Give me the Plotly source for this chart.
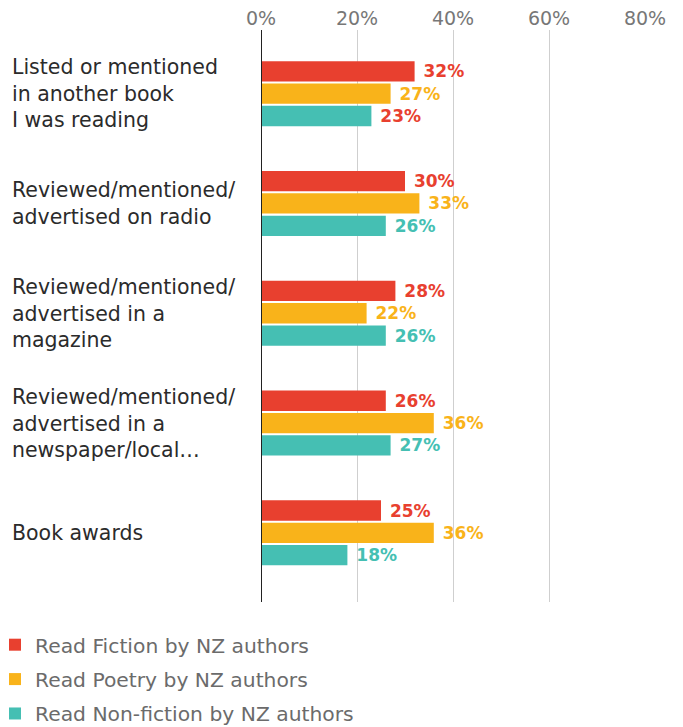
import plotly.graph_objects as go

categories = [
    "Listed or mentioned<br>in another book<br>I was reading",
    "Reviewed/mentioned/<br>advertised on radio",
    "Reviewed/mentioned/<br>advertised in a<br>magazine",
    "Reviewed/mentioned/<br>advertised in a<br>newspaper/local…",
    "Book awards",
]
fiction = [32, 30, 28, 26, 25]
poetry = [27, 33, 22, 36, 36]
nonfiction = [23, 26, 26, 27, 18]
series_names = ["Read Fiction by NZ authors", "Read Poetry by NZ authors", "Read Non-fiction by NZ authors"]
x_ticks = [0, 20, 40, 60, 80]

RED = "#E8402F"
YELLOW = "#F9B31A"
TEAL = "#45BFB3"
FONT = "'DejaVu Sans', sans-serif"

ypos = list(range(len(categories)))

fig = go.Figure()
nonfic_label_colors = [RED] + [TEAL] * (len(nonfiction) - 1)
for k, (name, vals, col, tcol) in enumerate([
    (series_names[0], fiction, RED, RED),
    (series_names[1], poetry, YELLOW, YELLOW),
    (series_names[2], nonfiction, TEAL, nonfic_label_colors),
]):
    fig.add_trace(go.Bar(
        y=ypos, x=vals, orientation="h", name=name, legendgroup=f"g{k}",
        marker=dict(color=col, line=dict(width=0)),
        text=[f"\u00a0{v}%" for v in vals], textposition="outside",
        textfont=dict(color=tcol, size=17, family=FONT, weight="bold"),
        cliponaxis=False,
    ))

# the page body adds an 8px offset, so the figure is 8px smaller
W, H = 675, 719
L, R, T, B = 253, 38, 22, 125
pw = W - L - R

for i, c in enumerate(categories):
    fig.add_annotation(
        x=(2 - L) / pw, xref="paper", y=i, yref="y",
        text=c, showarrow=False, xanchor="left", align="left",
        font=dict(size=20.5, color="#2b2b2b", family=FONT),
    )

fig.update_layout(
    width=W, height=H,
    margin=dict(l=L, r=R, t=T, b=B, autoexpand=False),
    paper_bgcolor="white", plot_bgcolor="white",
    barmode="group", bargap=0.39, bargroupgap=0.09,
    showlegend=True,
    legend=dict(
        orientation="v", xref="paper", yref="container",
        x=(-13 - L) / pw, xanchor="left", y=1 - 617 / H, yanchor="top",
        font=dict(size=20.3, color="#6b6b6b", family=FONT),
        tracegroupgap=5, itemwidth=30,
    ),
    xaxis=dict(
        side="top", range=[0, 80], tickvals=x_ticks,
        ticktext=[f"{v}%" for v in x_ticks],
        showgrid=True, gridcolor="#cfcfcf", gridwidth=1,
        zeroline=False, showline=False, ticks="",
        tickfont=dict(size=19, color="#777777", family=FONT),
        fixedrange=True, automargin=False,
    ),
    yaxis=dict(
        range=[4.63, -0.58], showticklabels=False, showgrid=False,
        zeroline=False, showline=False, ticks="", fixedrange=True,
        automargin=False,
    ),
    shapes=[dict(type="line", xref="x", yref="paper", x0=0, x1=0, y0=0, y1=1,
                 line=dict(color="#222222", width=2))],
)

fig.write_html("out.html")
